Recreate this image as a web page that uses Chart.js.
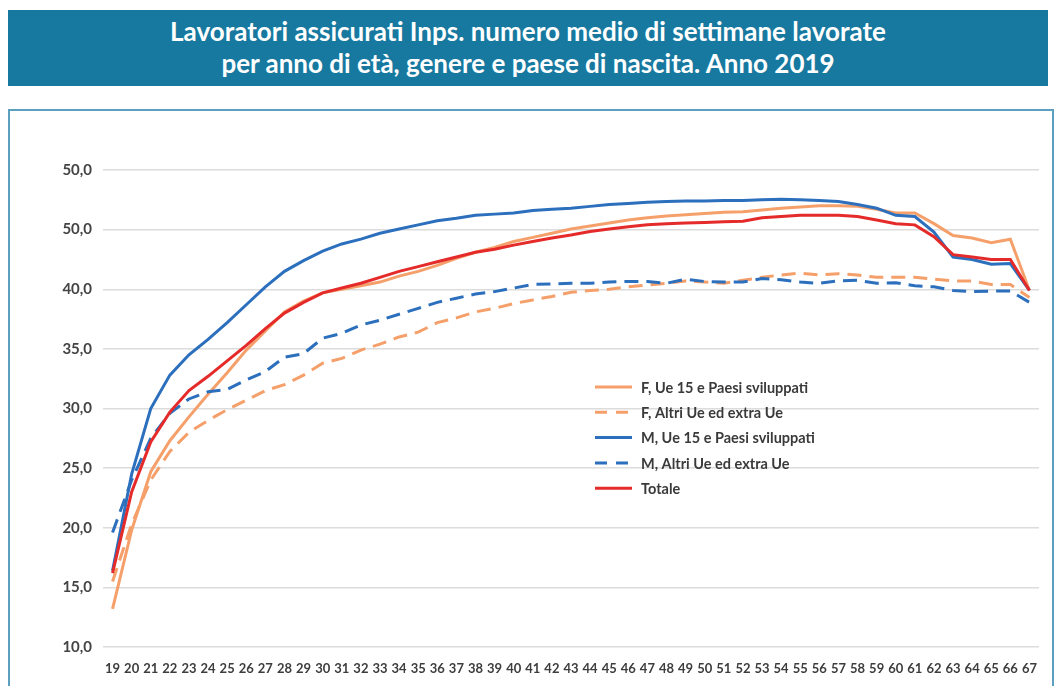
<!DOCTYPE html>
<html>
<head>
<meta charset="utf-8">
<script src="https://cdn.jsdelivr.net/npm/chart.js@4/dist/chart.umd.min.js"></script>
<style>
  html, body { margin: 0; padding: 0; background: #fff; }
  body { width: 1056px; height: 686px; position: relative; overflow: hidden; font-family: Lato, "Open Sans", sans-serif; }
  #band {
    position: absolute; left: 8px; top: 10px; width: 1040px; height: 76px;
    background: #17799f; color: #fff; text-align: center;
    font-weight: bold; font-size: 26px; line-height: 32px;
    box-sizing: border-box; padding-top: 5px;
  }
  #box {
    position: absolute; left: 8px; top: 109px; width: 1046px; height: 600px;
    border: 2px solid #5d9fbe; box-sizing: border-box;
  }
  #wrap { position: absolute; left: 10px; top: 111px; width: 1046px; height: 575px; }
</style>
</head>
<body>
<div id="band">Lavoratori assicurati Inps. numero medio di settimane lavorate<br>per anno di età, genere e paese di nascita. Anno 2019</div>
<div id="box"></div>
<div id="wrap"><canvas id="chart"></canvas></div>
<script>
/************ DATA ************/
const ages = [];
for (let a = 19; a <= 67; a++) ages.push(String(a));

const yTickLabels = ["10,0", "15,0", "20,0", "25,0", "30,0", "35,0", "40,0", "50,0", "50,0"];

const seriesNames = [
  "F, Ue 15 e Paesi sviluppati",
  "F, Altri Ue ed extra Ue",
  "M, Ue 15 e Paesi sviluppati",
  "M, Altri Ue ed extra Ue",
  "Totale"
];

const fUe15 = [13.2, 19.8, 24.7, 27.3, 29.3, 31.2, 33.0, 34.9, 36.5, 38.1,
  39.0, 39.7, 40.0, 40.3, 40.6, 41.1, 41.5, 42.0, 42.6, 43.1,
  43.5, 44.0, 44.35, 44.7, 45.05, 45.3, 45.55, 45.8, 46.0, 46.15,
  46.25, 46.35, 46.45, 46.5, 46.65, 46.8, 46.9, 47.0, 47.0, 46.95,
  46.7, 46.4, 46.4, 45.5, 44.5, 44.3, 43.9, 44.2, 39.9];

const fAltri = [15.5, 20.3, 24.0, 26.4, 28.0, 29.0, 29.9, 30.7, 31.5, 32.0,
  32.8, 33.8, 34.2, 34.9, 35.4, 36.0, 36.4, 37.2, 37.6, 38.1,
  38.4, 38.8, 39.1, 39.4, 39.75, 39.9, 40.0, 40.2, 40.35, 40.5,
  40.7, 40.6, 40.5, 40.75, 41.0, 41.2, 41.35, 41.2, 41.3, 41.2,
  41.0, 41.0, 41.0, 40.85, 40.7, 40.7, 40.4, 40.4, 39.3];

const mUe15 = [16.4, 24.5, 30.0, 32.8, 34.5, 35.8, 37.2, 38.7, 40.2, 41.5,
  42.4, 43.2, 43.8, 44.2, 44.7, 45.05, 45.4, 45.75, 45.95, 46.2,
  46.3, 46.4, 46.6, 46.7, 46.8, 46.95, 47.1, 47.2, 47.3, 47.35,
  47.4, 47.4, 47.45, 47.45, 47.5, 47.55, 47.5, 47.45, 47.35, 47.1,
  46.8, 46.2, 46.1, 44.8, 42.7, 42.5, 42.1, 42.15, 39.9];

const mAltri = [19.6, 24.0, 27.5, 29.6, 30.8, 31.4, 31.6, 32.4, 33.1, 34.3,
  34.6, 35.9, 36.3, 37.0, 37.4, 37.9, 38.4, 38.9, 39.25, 39.6,
  39.8, 40.1, 40.4, 40.45, 40.5, 40.5, 40.6, 40.65, 40.65, 40.5,
  40.85, 40.65, 40.6, 40.6, 40.9, 40.8, 40.6, 40.5, 40.7, 40.75,
  40.5, 40.55, 40.3, 40.2, 39.9, 39.8, 39.85, 39.85, 38.9];

const totale = [16.2, 23.0, 27.2, 29.7, 31.5, 32.7, 34.0, 35.3, 36.7, 38.0,
  38.9, 39.7, 40.1, 40.5, 41.0, 41.5, 41.9, 42.3, 42.7, 43.1,
  43.35, 43.7, 44.0, 44.3, 44.55, 44.85, 45.05, 45.25, 45.4, 45.5,
  45.55, 45.6, 45.65, 45.7, 46.0, 46.1, 46.2, 46.2, 46.2, 46.1,
  45.8, 45.5, 45.4, 44.4, 42.9, 42.7, 42.5, 42.5, 39.9];

/************ STYLE ************/
const ORANGE = "#f5a06b";
const BLUE = "#2b6fbd";
const RED = "#e52a2a";
const DASH = [14, 8];

function ds(label, data, color, dashed, order) {
  return {
    label: label,
    data: data,
    borderColor: color,
    backgroundColor: color,
    borderWidth: 3,
    borderDash: dashed ? DASH : [],
    pointRadius: 0,
    tension: 0,
    fill: false,
    order: order
  };
}

/************ LEGEND (inside plot) ************/
const innerLegend = {
  id: "innerLegend",
  afterDraw(chart) {
    const ctx = chart.ctx;
    const x0 = 585, y0 = 276, rowH = 25.3;
    ctx.save();
    ctx.font = "bold 14.5px Lato, sans-serif";
    ctx.textBaseline = "middle";
    chart.data.datasets.forEach((d, i) => {
      const y = y0 + i * rowH;
      ctx.strokeStyle = d.borderColor;
      ctx.lineWidth = 3;
      ctx.setLineDash(d.borderDash.length ? [12, 9] : []);
      ctx.beginPath();
      ctx.moveTo(x0, y);
      ctx.lineTo(x0 + 37, y);
      ctx.stroke();
      ctx.setLineDash([]);
      ctx.fillStyle = "#3a3a3a";
      ctx.fillText(d.label, x0 + 46, y + 1);
    });
    ctx.restore();
  }
};

/************ CHART ************/
new Chart(document.getElementById("chart"), {
  type: "line",
  data: {
    labels: ages,
    datasets: [
      ds(seriesNames[0], fUe15, ORANGE, false, 4),
      ds(seriesNames[1], fAltri, ORANGE, true, 3),
      ds(seriesNames[2], mUe15, BLUE, false, 2),
      ds(seriesNames[3], mAltri, BLUE, true, 1),
      ds(seriesNames[4], totale, RED, false, 0)
    ]
  },
  options: {
    responsive: true,
    maintainAspectRatio: false,
    animation: false,
    layout: { padding: { top: 59, right: 17, bottom: 9, left: 0 } },
    plugins: { legend: { display: false }, tooltip: { enabled: false } },
    scales: {
      x: {
        offset: true,
        grid: { display: false },
        border: { display: false },
        ticks: {
          autoSkip: false, maxRotation: 0, padding: 6,
          color: "#3d3d3d", font: { family: "Lato", weight: "bold", size: 13 }
        },
        afterFit(scale) { scale.height = 30; }
      },
      y: {
        min: 10, max: 50,
        grid: { color: "#dcdcdc", lineWidth: 1.5, drawTicks: false },
        border: { display: false },
        ticks: {
          stepSize: 5, padding: 11,
          color: "#444", font: { family: "Lato", weight: "bold", size: 15 },
          callback: (v, i) => yTickLabels[i]
        },
        afterFit(scale) { scale.width = 93; }
      }
    }
  },
  plugins: [innerLegend]
});
</script>
</body>
</html>
